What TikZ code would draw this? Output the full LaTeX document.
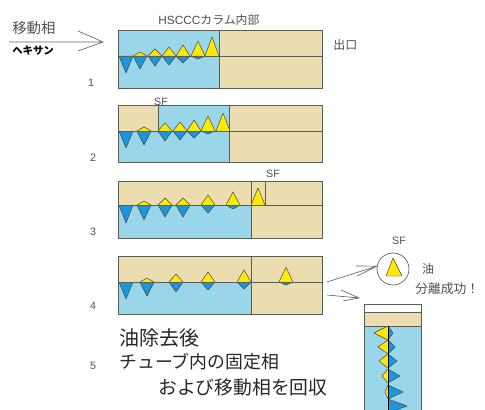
\documentclass[tikz,border=0pt]{standalone}
\usepackage{fontspec}
\setmainfont{Noto Sans CJK JP}
\setsansfont{Liberation Sans}
\definecolor{phaseblue}{HTML}{9AD6E9}
\definecolor{phasetan}{HTML}{EBDDB0}
\definecolor{peakblue}{HTML}{1D97DC}
\definecolor{peakyellow}{HTML}{FFE900}
\definecolor{edgegray}{HTML}{5A5F55}
\definecolor{textgray}{HTML}{505050}
\newcommand{\fs}[1]{\fontsize{#1}{#1}\selectfont}
% \vpeak{x}{mid}{top}{bottom}{half width}
\newcommand{\vpeak}[5]{%
  \ifdim #3pt<#2pt \fill[peakyellow] (#1-#5,#2) -- (#1,#3) -- (#1+#5,#2) -- cycle;
  \draw[peakline] (#1-#5,#2) -- (#1,#3) -- (#1+#5,#2);\fi
  \ifdim #4pt>#2pt \fill[peakblue] (#1-#5,#2) -- (#1,#4) -- (#1+#5,#2) -- cycle;
  \draw[peakline] (#1-#5,#2) -- (#1,#4) -- (#1+#5,#2);\fi}
% \hpeak{y}{mid}{left}{right}{half height}
\newcommand{\hpeak}[5]{%
  \fill[peakyellow] (#2,#1-#5) -- (#3,#1) -- (#2,#1+#5) -- cycle;
  \draw[peakline] (#2,#1-#5) -- (#3,#1) -- (#2,#1+#5);
  \fill[peakblue] (#2,#1-#5) -- (#4,#1) -- (#2,#1+#5) -- cycle;
  \draw[peakline] (#2,#1-#5) -- (#4,#1) -- (#2,#1+#5);}
\tikzset{
  peakline/.style={draw=black!75,line width=.35pt,line join=round},
  edge/.style={draw=edgegray,line width=.65pt},
  sketch/.style={draw=black!60,line width=.5pt},
  lab/.style={inner sep=0pt,text=textgray},
  big/.style={inner sep=0pt,text=black!85,anchor=west},
}
\begin{document}
\begin{tikzpicture}[x=.75pt,y=-.75pt]
\useasboundingbox (0,0) rectangle (485,410);
% Panel 1
\fill[phasetan] (118,30) rectangle (322,88);
\fill[phaseblue] (118,30) rectangle (219,88);
\vpeak{126}{56}{56}{73}{7}\vpeak{140}{56}{52}{69}{7}\vpeak{155}{56}{49}{66}{7}
\vpeak{169}{56}{47}{65}{7}\vpeak{183}{56}{45}{63}{7}\vpeak{198}{56}{41}{59}{7}\vpeak{212}{56}{37}{56}{7}
\draw[edge] (118,30) rectangle (322,88) (118,56) -- (322,56) (219,30) -- (219,88);
% Panel 2
\fill[phasetan] (118,105) rectangle (322,162);
\fill[phaseblue] (118,131) rectangle (229,162) (158,105) rectangle (229,131);
\vpeak{126}{131}{131}{148}{7}\vpeak{144}{131}{127}{145}{7}\vpeak{165}{131}{123}{141}{7}
\vpeak{180}{131}{122}{140}{7}\vpeak{194}{131}{120}{138}{7}\vpeak{208}{131}{116}{134}{7}\vpeak{223}{131}{113}{131}{7}
\draw[edge] (118,105) rectangle (322,162) (118,131) -- (322,131) (229,105) -- (229,162) (158,105) -- (158,131);
% Panel 3
\fill[phasetan] (118,181) rectangle (322,238);
\fill[phaseblue] (118,205) rectangle (251,238);
\vpeak{126}{205}{205}{223}{7}\vpeak{144}{205}{201}{220}{7}\vpeak{165}{205}{198}{217}{7}
\vpeak{183}{205}{198}{217}{7}\vpeak{208}{205}{195}{213}{7}\vpeak{233}{205}{192}{209}{7}\vpeak{258}{205}{188}{205}{7}
\draw[edge] (118,181) rectangle (322,238) (118,205) -- (322,205) (251,181) -- (251,238) (265,181) -- (265,205);
% Panel 4
\fill[phasetan] (118,256) rectangle (322,314);
\fill[phaseblue] (118,282) rectangle (251,314);
\vpeak{126}{282}{282}{299}{7}\vpeak{147}{282}{278}{296}{7}\vpeak{176}{282}{274}{292}{7}
\vpeak{208}{282}{272}{290}{7}\vpeak{244}{282}{270}{289}{7}\vpeak{286}{282}{267}{285}{7}
\draw[edge] (118,256) rectangle (322,314) (118,282) -- (322,282) (251,256) -- (251,314);
% Tube
\fill[white] (364,304) rectangle (421,312);
\fill[phasetan] (364,312) rectangle (421,326);
\fill[phaseblue] (364,326) rectangle (421,410);
\begin{scope}
\clip (364,304) rectangle (421,410);
\hpeak{333}{388}{374}{393}{7}\hpeak{347}{388}{378}{395}{7}\hpeak{361}{388}{379}{397}{7}
\hpeak{376}{388}{382}{400}{7}\hpeak{392}{388}{385}{403}{7}\hpeak{406}{388}{388}{407}{7}
\end{scope}
\draw[edge] (364,410) -- (364,304) -- (421,304) -- (421,410) (364,312) -- (421,312) (364,326) -- (421,326);
\draw[draw=black,line width=.55pt] (388,326) -- (388,410);
% Separated peak in circle
\node[circle,draw=black!65,line width=.5pt,minimum size=24pt,inner sep=0pt] (sfcircle) at (393,269) {};
\fill[peakyellow] (386,276) -- (393,258) -- (402,276) -- cycle;
\draw[peakline] (386,276) -- (393,258) -- (402,276) -- cycle;
% Arrows
\coordinate (inS) at (9,42);\coordinate (inE) at (103,42);
\coordinate (inA) at (78,31);\coordinate (inB) at (78,51);
\draw[sketch] (inS) -- (inE) (inA) -- (inE) -- (inB);
\coordinate (aS) at (327,282);\coordinate (aA) at (356,266);\coordinate (aB) at (357,276);
\draw[sketch] (aS) -- (sfcircle.170) (aA) -- (sfcircle.170) -- (aB);
\coordinate (bS) at (327,295);\coordinate (bE) at (359,298);\coordinate (bA) at (341,290);\coordinate (bB) at (343,301);
\draw[sketch] (bS) -- (bE) (bA) -- (bE) -- (bB);
% Texts
\node[lab,anchor=west] (tMobile) at (12,28) {\fs{10.8}移動相};
\node[inner sep=0pt,anchor=west] (tHex) at (12,50.5) {\fs{7.8}\bfseries ヘキサン};
\node[lab,anchor=west] (tHead) at (158,20) {\fs{8.9}\sffamily HSCCC\rmfamily カラム内部};
\node[lab,anchor=west] (tOut) at (333,45) {\fs{9}出口};
\node[lab] (n1) at (91,83) {\fs{8}\sffamily 1};
\node[lab] (n2) at (93,158) {\fs{8}\sffamily 2};
\node[lab] (n3) at (93,232) {\fs{8}\sffamily 3};
\node[lab] (n4) at (93,306) {\fs{8}\sffamily 4};
\node[lab] (n5) at (93,366) {\fs{8}\sffamily 5};
\node[lab] (sf2) at (161,102) {\fs{8}\sffamily SF};
\node[lab] (sf3) at (273,174) {\fs{8}\sffamily SF};
\node[lab] (sf4) at (399,241) {\fs{8}\sffamily SF};
\node[lab] (tOil) at (428,269) {\fs{9}油};
\node[lab,anchor=west] (tOk) at (415,289) {\fs{9.6}分離成功！};
\node[big] (t1) at (119,338) {\fs{15}油除去後};
\node[big] (t2) at (119,362) {\fs{13.4}チューブ内の固定相};
\node[big] (t3) at (158,387) {\fs{14.1}および移動相を回収};
\end{tikzpicture}
\end{document}
